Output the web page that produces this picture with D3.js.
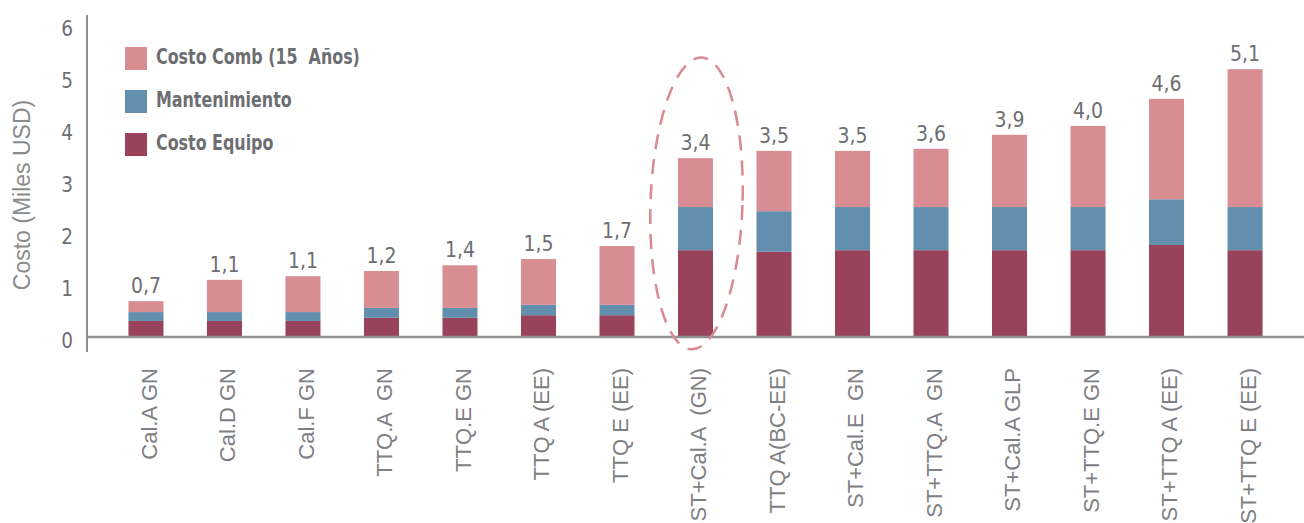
<!DOCTYPE html>
<html>
<head>
<meta charset="utf-8">
<script src="https://cdn.jsdelivr.net/npm/d3@7"></script>
<style>
  body { margin: 0; background: #fff; }
</style>
</head>
<body>
<svg width="1304" height="523"></svg>
<script>
// data
var categories = ["Cal.A GN", "Cal.D GN", "Cal.F GN", "TTQ.A  GN", "TTQ.E GN", "TTQ A (EE)", "TTQ E (EE)",
    "ST+Cal.A  (GN)", "TTQ A(BC-EE)", "ST+Cal.E  GN", "ST+TTQ.A  GN", "ST+Cal.A GLP", "ST+TTQ.E GN",
    "ST+TTQ A (EE)", "ST+TTQ E (EE)"];
var costoEquipo   = [0.29, 0.29, 0.29, 0.35, 0.35, 0.40, 0.40, 1.65, 1.62, 1.65, 1.65, 1.65, 1.65, 1.75, 1.65];
var mantenimiento = [0.17, 0.17, 0.17, 0.19, 0.19, 0.20, 0.20, 0.83, 0.78, 0.83, 0.83, 0.83, 0.83, 0.88, 0.83];
var costoComb     = [0.21, 0.62, 0.69, 0.71, 0.82, 0.88, 1.13, 0.94, 1.16, 1.08, 1.12, 1.39, 1.56, 1.93, 2.65];
var totalLabels   = ["0,7", "1,1", "1,1", "1,2", "1,4", "1,5", "1,7", "3,4", "3,5", "3,5", "3,6", "3,9", "4,0", "4,6", "5,1"];
var yTicks = [0, 1, 2, 3, 4, 5, 6];
var seriesNames = ["Costo Comb (15  Años)", "Mantenimiento", "Costo Equipo"];
var highlighted = "ST+Cal.A  (GN)";

var colors = {"Costo Equipo": "#98425b", "Mantenimiento": "#628fae", "Costo Comb (15  Años)": "#d78d91"};
var narrow = "'Liberation Sans Narrow', 'DejaVu Sans Condensed', 'Liberation Sans', sans-serif";
var regular = "'Liberation Sans', Arial, sans-serif";

var svg = d3.select("svg"),
    width = +svg.attr("width"),
    height = +svg.attr("height");

var rows = categories.map(function(c, i){
    return {cat: c, "Costo Equipo": costoEquipo[i], "Mantenimiento": mantenimiento[i],
            "Costo Comb (15  Años)": costoComb[i], label: totalLabels[i]};
});

var stack = d3.stack().keys(["Costo Equipo", "Mantenimiento", "Costo Comb (15  Años)"])(rows);

var xScale = d3.scaleBand(categories, [87, 1304]).paddingInner(0.554).paddingOuter(0.528);
var yScale = d3.scaleLinear([0, 6], [336, 24]);

// bars
svg.append("g").selectAll("g")
    .data(stack)
    .enter().append("g")
    .attr("fill", function(s){ return colors[s.key]; })
    .selectAll("rect")
    .data(function(s){ return s; })
    .enter().append("rect")
    .attr("x", function(d){ return xScale(d.data.cat); })
    .attr("y", function(d){ return yScale(d[1]); })
    .attr("width", xScale.bandwidth())
    .attr("height", function(d){ return yScale(d[0]) - yScale(d[1]); });

// total labels
var topLayer = stack[stack.length - 1];
svg.append("g").selectAll("text")
    .data(topLayer)
    .enter().append("text")
    .attr("x", function(d){ return xScale(d.data.cat) + xScale.bandwidth()/2; })
    .attr("y", function(d){ return yScale(d[1]) - 8; })
    .attr("text-anchor", "middle")
    .attr("font-family", narrow)
    .attr("font-size", "21px")
    .attr("fill", "#6d6e71")
    .text(function(d){ return d.data.label; });

// y axis
var yAxis = svg.append("g")
    .attr("transform", "translate(87,0)")
    .call(d3.axisLeft(yScale).tickValues(yTicks).tickFormat(d3.format("d")).tickSize(0).tickPadding(14));
yAxis.select(".domain").remove();
yAxis.selectAll("text")
    .attr("font-family", narrow)
    .attr("font-size", "20.5px")
    .attr("fill", "#6d6e71")
    .attr("dy", "0.55em");
svg.append("line")
    .attr("x1", 87).attr("x2", 87)
    .attr("y1", yScale(6) - 9).attr("y2", yScale(0) + 16)
    .attr("stroke", "#8e8f91").attr("stroke-width", 2);

// x axis
var xAxis = svg.append("g")
    .attr("transform", "translate(0," + yScale(0) + ")")
    .call(d3.axisBottom(xScale).tickSize(0).tickPadding(0));
xAxis.select(".domain").remove();
xAxis.selectAll("text")
    .attr("font-family", regular)
    .attr("font-size", "22px")
    .attr("fill", "#7f8083")
    .attr("text-anchor", "end")
    .attr("transform", "translate(3,32) rotate(-90)")
    .attr("dy", "0.35em")
    .attr("y", 0)
    .attr("x", 0)
    .attr("xml:space", "preserve");
svg.append("line")
    .attr("x1", 87).attr("x2", width)
    .attr("y1", yScale(0) + 1).attr("y2", yScale(0) + 1)
    .attr("stroke", "#8e8f91").attr("stroke-width", 2.5);

// y title
svg.append("text")
    .attr("transform", "translate(30," + 195 + ") rotate(-90)")
    .attr("text-anchor", "middle")
    .attr("font-family", regular)
    .attr("font-size", "23px")
    .attr("fill", "#8a8b8d")
    .text("Costo (Miles USD)");

// highlight ellipse
var hx = xScale(highlighted) + xScale.bandwidth()/2;
svg.append("ellipse")
    .attr("transform", "translate(" + (hx + 1) + "," + yScale(2.55) + ") rotate(2)")
    .attr("rx", 46)
    .attr("ry", 146)
    .attr("fill", "none")
    .attr("stroke", "#d98a91")
    .attr("stroke-width", 2.5)
    .attr("stroke-dasharray", "15,10");

// legend
var legend = svg.append("g").selectAll("g")
    .data(seriesNames)
    .enter().append("g")
    .attr("transform", function(d, i){ return "translate(125," + (47 + i*43) + ")"; });
legend.append("rect")
    .attr("width", 22).attr("height", 23)
    .attr("fill", function(d){ return colors[d]; });
var legendText = legend.append("text")
    .attr("x", 0).attr("y", 0)
    .attr("font-family", narrow)
    .attr("font-weight", "bold")
    .attr("font-size", "21.5px")
    .attr("fill", "#6d6e71")
    .attr("xml:space", "preserve")
    .text(function(d){ return d; });
// squeeze the bold text to a condensed look (first entry ~204px wide)
var w0 = legendText.node().getComputedTextLength();
var k = Math.min(1, 204 / w0);
legendText.attr("transform", "translate(31,17) scale(" + k + ",1)");
</script>
</body>
</html>
